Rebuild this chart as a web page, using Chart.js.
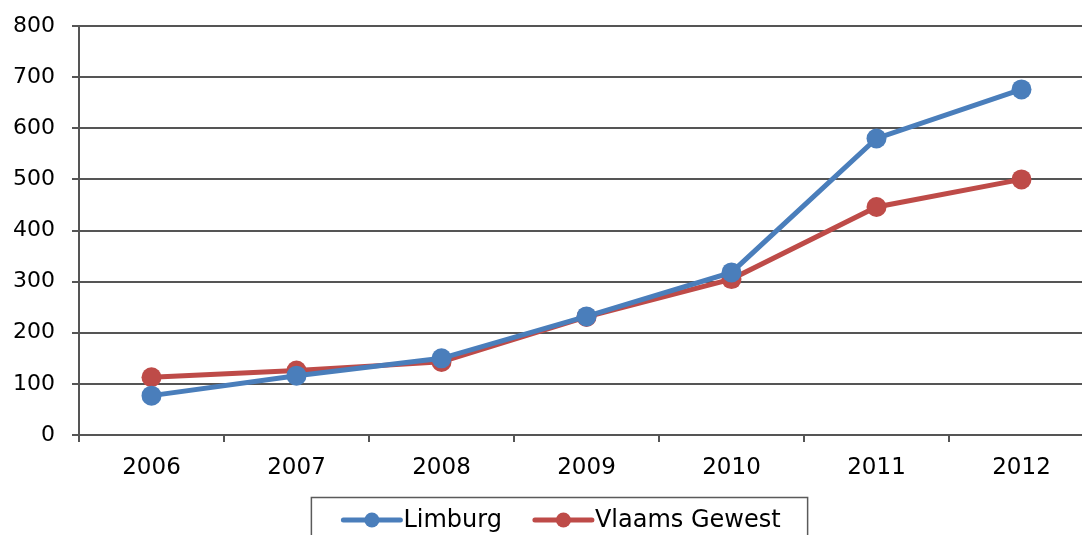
<!DOCTYPE html>
<html>
<head>
<meta charset="utf-8">
<script src="https://cdn.jsdelivr.net/npm/chart.js@4"></script>
<style>
  html, body { margin: 0; padding: 0; background: #fff; overflow: hidden; }
  /* plot runs past the right edge of the window */
  #wrap { width: 1104px; height: 535px; }
</style>
</head>
<body>
<div id="wrap"><canvas id="lineChart"></canvas></div>
<script>
/* ================== DATA ================== */
const years = ["2006", "2007", "2008", "2009", "2010", "2011", "2012"];
const limburg = [77, 116, 150, 232, 318, 580, 676];
const vlaamsGewest = [113, 126, 143, 231, 305, 446, 500];
const seriesNames = ["Limburg", "Vlaams Gewest"];

/* ================== STYLE ================== */
const FONT = "'DejaVu Sans', Verdana, sans-serif";
const blue = "#4A7EBB";
const red = "#BE4B48";
const gridColor = "#555555";

Chart.defaults.font.family = FONT;
Chart.defaults.font.size = 22;
Chart.defaults.color = "#000";

/* custom legend: line + dot + label, in a bordered box */
const legendBox = {
  id: "legendBox",
  afterDraw(chart) {
    const ctx = chart.ctx;
    ctx.save();
    ctx.font = "24px " + FONT;
    const sym = 57, gap = 3, itemGap = 33;
    const widths = chart.data.datasets.map(d => ctx.measureText(d.label).width);
    const total = widths.reduce((a, b) => a + b, 0) + chart.data.datasets.length * (sym + gap) + itemGap;
    let x = 562 - total / 2;
    const y = 520;

    ctx.strokeStyle = "#5a5a5a";
    ctx.lineWidth = 1.5;
    ctx.strokeRect(x - 32, 497.5, total + 59, 60);

    chart.data.datasets.forEach((d, i) => {
      ctx.strokeStyle = d.borderColor;
      ctx.lineWidth = 5;
      ctx.lineCap = "round";
      ctx.beginPath();
      ctx.moveTo(x, y);
      ctx.lineTo(x + sym, y);
      ctx.stroke();
      ctx.fillStyle = d.borderColor;
      ctx.beginPath();
      ctx.arc(x + sym / 2, y, 7.5, 0, Math.PI * 2);
      ctx.fill();
      ctx.fillStyle = "#000";
      ctx.textBaseline = "middle";
      ctx.fillText(d.label, x + sym + gap, y + 1);
      x += sym + gap + widths[i] + itemGap;
    });
    ctx.restore();
  }
};

new Chart(document.getElementById("lineChart"), {
  type: "line",
  data: {
    labels: years,
    datasets: [
      {
        label: seriesNames[0],
        data: limburg,
        borderColor: blue,
        backgroundColor: blue,
        borderWidth: 5,
        pointRadius: 10,
        pointHoverRadius: 10,
        pointBorderWidth: 0,
        tension: 0
      },
      {
        label: seriesNames[1],
        data: vlaamsGewest,
        borderColor: red,
        backgroundColor: red,
        borderWidth: 5,
        pointRadius: 10,
        pointHoverRadius: 10,
        pointBorderWidth: 0,
        tension: 0
      }
    ]
  },
  options: {
    responsive: true,
    maintainAspectRatio: false,
    animation: false,
    layout: { padding: { top: 26, right: 2, left: 0, bottom: 0 } },
    plugins: {
      legend: { display: false },
      tooltip: { enabled: false }
    },
    scales: {
      x: {
        offset: true,
        grid: {
          offset: true,
          drawOnChartArea: false,
          drawTicks: true,
          tickLength: 7,
          color: gridColor,
          lineWidth: 2
        },
        border: { color: gridColor, width: 2 },
        ticks: { padding: 12, color: "#000", font: { size: 23 } },
        afterFit(scale) {
          scale.height = 100;
          scale.paddingLeft = 0;
          scale.paddingRight = 0;
        }
      },
      y: {
        min: 0,
        max: 800,
        ticks: { stepSize: 100, padding: 17, color: "#000" },
        grid: {
          color: gridColor,
          lineWidth: 2,
          tickLength: 7
        },
        border: { color: gridColor, width: 2 },
        afterFit(scale) {
          scale.width = 79;
          scale.paddingTop = 0;
          scale.paddingBottom = 0;
        }
      }
    }
  },
  plugins: [legendBox]
});
</script>
</body>
</html>
